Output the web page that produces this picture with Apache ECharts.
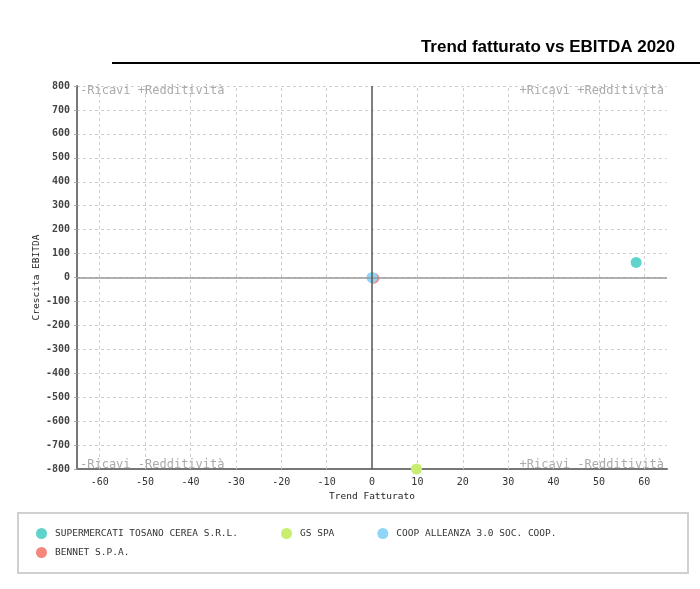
<!DOCTYPE html>
<html>
<head>
<meta charset="utf-8">
<script src="https://cdn.jsdelivr.net/npm/echarts@6/dist/echarts.min.js"></script>
<style>
  html, body { margin: 0; padding: 0; background: #fff; }
  #chart { width: 700px; height: 589px; }
</style>
</head>
<body>
<div id="chart"></div>
<script>
const seriesNames = ['SUPERMERCATI TOSANO CEREA S.R.L.', 'GS SPA', 'COOP ALLEANZA 3.0 SOC. COOP.', 'BENNET S.P.A.'];
const seriesColors = ['#5fd4cc', '#c8ee70', '#8fd5f7', '#f5877c'];
const trendFatturato = [58.2, 9.8, 0, 0.4];
const crescitaEbitda = [63, -800, 0, -3];
const xGridTicks = [-60, -50, -40, -30, -20, -10, 10, 20, 30, 40, 50, 60];
const quadrantLabels = ['-Ricavi +Redditività', '+Ricavi +Redditività', '-Ricavi -Redditività', '+Ricavi -Redditività'];

const mono = 'DejaVu Sans Mono';
const chart = echarts.init(document.getElementById('chart'));

const pointSeries = seriesNames.map((name, i) => ({
    name: name,
    type: 'scatter',
    symbolSize: 11,
    z: i === 3 ? 2 : 3,
    itemStyle: { color: seriesColors[i], opacity: 1 },
    data: [[trendFatturato[i], crescitaEbitda[i]]]
}));

// helper series carrying grid + zero lines
const lineSeries = {
    name: 'griglia',
    type: 'scatter',
    data: [],
    z: 1,
    silent: true,
    markLine: {
        silent: true,
        symbol: 'none',
        label: { show: false },
        animation: false,
        data: xGridTicks.map(v => ({ xAxis: v, lineStyle: { color: '#cfcfcf', type: [3, 3], width: 1 } }))
            .concat([
                { yAxis: 0, lineStyle: { color: '#999', type: 'solid', width: 1.5 } },
                { xAxis: 0, lineStyle: { color: '#555', type: 'solid', width: 1.5 } }
            ])
    }
};

const legendText = { fontFamily: mono, fontSize: 9.5, color: '#333', padding: [0, 0, 0, 3] };

chart.setOption({
    animation: false,
    title: {
        text: 'Trend fatturato vs EBITDA 2020',
        right: 20,
        top: 34,
        textStyle: { fontFamily: 'Liberation Sans', fontSize: 17, fontWeight: 'bold', color: '#000' }
    },
    grid: { left: 77, right: 33, top: 86, bottom: 120 },
    xAxis: {
        type: 'value',
        min: -65,
        max: 65,
        interval: 5,
        name: 'Trend Fatturato',
        nameLocation: 'middle',
        nameGap: 22,
        nameTextStyle: { fontFamily: mono, fontSize: 9.5, color: '#222' },
        axisLine: { onZero: false, lineStyle: { color: '#777', width: 2 } },
        axisTick: { show: false },
        splitLine: { show: false },
        axisLabel: {
            margin: 8,
            fontFamily: mono,
            fontSize: 10,
            color: '#333',
            formatter: v => (v % 10 === 0 ? String(v) : '')
        }
    },
    yAxis: {
        type: 'value',
        min: -800,
        max: 800,
        interval: 100,
        name: 'Crescita EBITDA',
        nameLocation: 'middle',
        nameGap: 35,
        nameMoveOverlap: false,
        nameTextStyle: { fontFamily: mono, fontSize: 9.5, color: '#222' },
        axisLine: { onZero: false, lineStyle: { color: '#777', width: 2 } },
        axisTick: { show: true, length: 3, lineStyle: { color: '#aaa' } },
        splitLine: { show: true, lineStyle: { color: '#cfcfcf', type: [3, 3], width: 1 } },
        axisLabel: { margin: 7, fontFamily: mono, fontSize: 10, fontWeight: 'bold', color: '#444' }
    },
    legend: [
        {
            data: seriesNames.slice(0, 3),
            left: 31,
            top: 523,
            itemGap: 43,
            itemWidth: 11,
            itemHeight: 11,
            icon: 'circle',
            textStyle: legendText
        },
        {
            data: seriesNames.slice(3),
            left: 31,
            top: 542,
            itemWidth: 11,
            itemHeight: 11,
            icon: 'circle',
            textStyle: legendText
        }
    ],
    series: [lineSeries].concat(pointSeries)
});

// quadrant captions, header rule and legend frame
const tl = chart.convertToPixel({ gridIndex: 0 }, [-65, 800]);
const br = chart.convertToPixel({ gridIndex: 0 }, [65, -800]);
const capStyle = { fontFamily: mono, fontSize: 12, fill: '#aaa' };
chart.setOption({
    graphic: [
        { type: 'rect', shape: { x: 112, y: 62, width: 588, height: 2 }, style: { fill: '#000' } },
        { type: 'rect', shape: { x: 18, y: 513, width: 670, height: 60 }, style: { fill: 'none', stroke: '#d0d0d0', lineWidth: 2 } },
        { type: 'text', x: tl[0] + 3, y: tl[1] + 5, style: Object.assign({ text: quadrantLabels[0], align: 'left', verticalAlign: 'middle' }, capStyle) },
        { type: 'text', x: br[0] - 3, y: tl[1] + 5, style: Object.assign({ text: quadrantLabels[1], align: 'right', verticalAlign: 'middle' }, capStyle) },
        { type: 'text', x: tl[0] + 3, y: br[1] - 4, style: Object.assign({ text: quadrantLabels[2], align: 'left', verticalAlign: 'middle' }, capStyle) },
        { type: 'text', x: br[0] - 3, y: br[1] - 4, style: Object.assign({ text: quadrantLabels[3], align: 'right', verticalAlign: 'middle' }, capStyle) }
    ]
});
</script>
</body>
</html>
